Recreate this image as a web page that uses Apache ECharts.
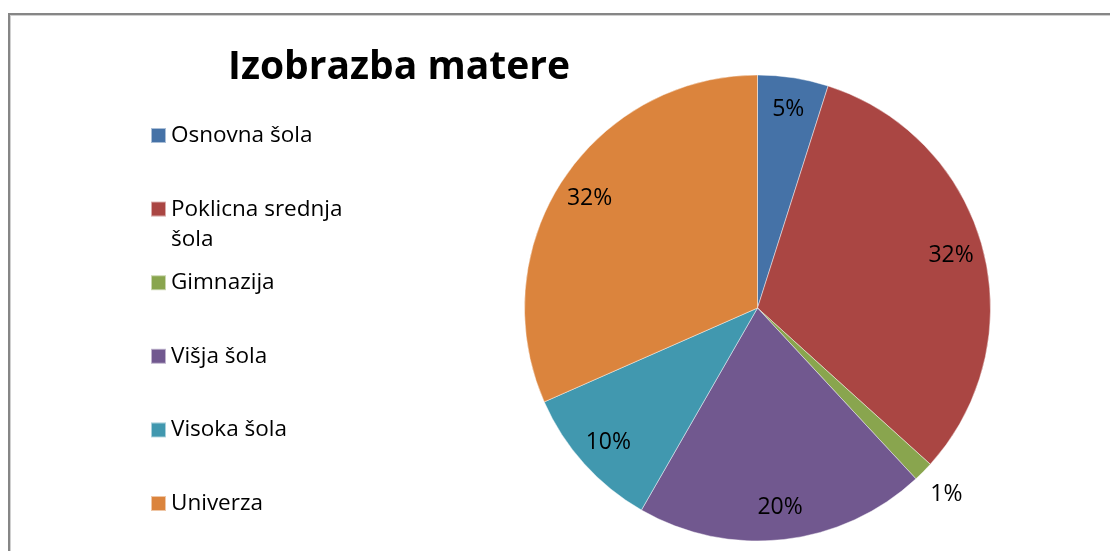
<!DOCTYPE html>
<html>
<head>
<meta charset="utf-8">
<script src="https://cdn.jsdelivr.net/npm/echarts@6/dist/echarts.min.js"></script>
<style>
  html, body { margin: 0; padding: 0; background: #fff; }
  #frame { position: absolute; left: 8px; top: 13px; width: 1200px; height: 600px;
           border-left: 2px solid #868686; border-top: 2px solid #868686;
           box-shadow: inset 1px 1px 0 #d0d0d0; }
  #chart { position: absolute; left: 0; top: 0; width: 1110px; height: 551px; }
</style>
</head>
<body>
<div id="frame"></div>
<div id="chart"></div>
<script>
const title = 'Izobrazba matere';
const categories = ['Osnovna šola', 'Poklicna srednja šola', 'Gimnazija', 'Višja šola', 'Visoka šola', 'Univerza'];
const values = [4.9, 31.8, 1.4, 20.2, 10.1, 31.6];
const colors = ['#4572A7', '#AA4643', '#89A54E', '#71588F', '#4198AF', '#DB843D'];

const FONT = '"Open Sans", "Noto Sans", sans-serif';
const center = [757.5, 308];
const R = 233;

const data = categories.map((n, i) => ({ name: n, value: values[i], itemStyle: { color: colors[i] } }));

function wrap(name) {
  if (name.length <= 17) return name;
  const cut = name.lastIndexOf(' ', 17);
  return name.slice(0, cut) + '\n' + name.slice(cut + 1);
}

const legends = categories.map((n, i) => {
  const twoLine = wrap(n).indexOf('\n') >= 0;
  const cy = 135.5 + i * 73.6;
  const lh = twoLine ? 30.5 : 24;
  const h = twoLine ? lh * 3 : lh;
  return {
    data: [n],
    left: 150,
    top: cy - h / 2,
    orient: 'vertical',
    padding: 0,
    itemWidth: 15,
    itemHeight: 15,
    itemGap: 0,
    icon: 'rect',
    selectedMode: false,
    formatter: name => twoLine ? '\u200b\n' + wrap(name) : wrap(name),
    textStyle: {
      fontFamily: FONT, fontSize: 22.5, color: '#000', lineHeight: lh,
      padding: [0, 0, 0, 0]
    }
  };
});

const pct = p => Math.round(p.percent) + '%';

const option = {
  animation: false,
  backgroundColor: 'transparent',
  title: {
    text: title, left: 399, top: 48, textAlign: 'center', padding: 0,
    textStyle: { fontFamily: FONT, fontSize: 39, fontWeight: 'bold', color: '#000' }
  },
  legend: legends,
  series: [
    {
      type: 'pie', center: center, radius: [0, R], startAngle: 90, clockwise: true,
      data: data, silent: true, avoidLabelOverlap: false,
      label: { show: false }, labelLine: { show: false },
      itemStyle: { borderColor: 'rgba(255,255,255,0.55)', borderWidth: 0.8 },
      emphasis: { disabled: true }
    },
    {
      type: 'pie', center: center, radius: [162, R], startAngle: 90, clockwise: true,
      data: categories.map((n, i) => ({ name: n, value: values[i] })), silent: true, avoidLabelOverlap: false,
      itemStyle: { color: 'rgba(0,0,0,0)' },
      label: { show: true, position: 'inside', formatter: p => p.percent >= 3 ? pct(p) : '',
               fontFamily: FONT, fontSize: 23, color: '#000' },
      labelLine: { show: false }, emphasis: { disabled: true }, legendHoverLink: false
    },
    {
      type: 'pie', center: center, radius: [R, 292], startAngle: 90, clockwise: true,
      data: categories.map((n, i) => ({ name: n, value: values[i] })), silent: true, avoidLabelOverlap: false,
      itemStyle: { color: 'rgba(0,0,0,0)' },
      label: { show: true, position: 'inside', formatter: p => p.percent < 3 ? pct(p) : '',
               fontFamily: FONT, fontSize: 23, color: '#000' },
      labelLine: { show: false }, emphasis: { disabled: true }, legendHoverLink: false
    }
  ]
};

const chart = echarts.init(document.getElementById('chart'), null, { renderer: 'canvas' });
chart.setOption(option);
</script>
</body>
</html>
